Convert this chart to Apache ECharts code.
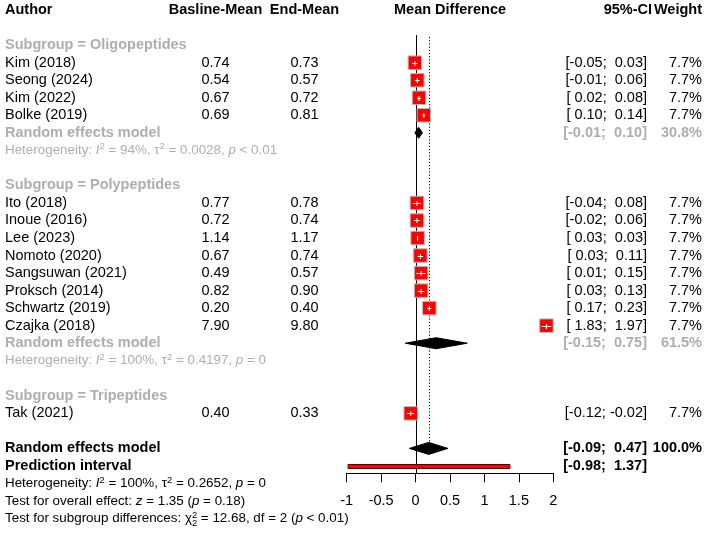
<!DOCTYPE html>
<html><head><meta charset="utf-8">
<script src="https://cdn.jsdelivr.net/npm/echarts@6/dist/echarts.min.js"></script>
<style>html,body{margin:0;padding:0;background:#fff}#c{width:708px;height:533px}</style>
</head><body><div id="c"></div>
<script>
// ---------------- data ----------------
const studies = ['Kim (2018)', 'Seong (2024)', 'Kim (2022)', 'Bolke (2019)',
  'Ito (2018)', 'Inoue (2016)', 'Lee (2023)', 'Nomoto (2020)', 'Sangsuwan (2021)',
  'Proksch (2014)', 'Schwartz (2019)', 'Czajka (2018)', 'Tak (2021)'];
const studyGroup = ['Oligopeptides', 'Oligopeptides', 'Oligopeptides', 'Oligopeptides',
  'Polypeptides', 'Polypeptides', 'Polypeptides', 'Polypeptides', 'Polypeptides',
  'Polypeptides', 'Polypeptides', 'Polypeptides', 'Tripeptides'];
const baselineMean = [0.74, 0.54, 0.67, 0.69, 0.77, 0.72, 1.14, 0.67, 0.49, 0.82, 0.20, 7.90, 0.40];
const endMean = [0.73, 0.57, 0.72, 0.81, 0.78, 0.74, 1.17, 0.74, 0.57, 0.90, 0.40, 9.80, 0.33];
const meanDiff = [-0.01, 0.025, 0.05, 0.12, 0.02, 0.02, 0.03, 0.07, 0.08, 0.08, 0.20, 1.90, -0.07];
const ciLower = [-0.05, -0.01, 0.02, 0.10, -0.04, -0.02, 0.03, 0.03, 0.01, 0.03, 0.17, 1.83, -0.12];
const ciUpper = [0.03, 0.06, 0.08, 0.14, 0.08, 0.06, 0.03, 0.11, 0.15, 0.13, 0.23, 1.97, -0.02];
const studyWeight = [7.7, 7.7, 7.7, 7.7, 7.7, 7.7, 7.7, 7.7, 7.7, 7.7, 7.7, 7.7, 7.7];

const subgroupNames = ['Oligopeptides', 'Polypeptides', 'Tripeptides'];
const subgroupEst = [0.045, 0.30, null];
const subgroupLower = [-0.01, -0.15, null];
const subgroupUpper = [0.10, 0.75, null];
const subgroupWeight = [30.8, 61.5, null];
const subgroupI2 = ['94%', '100%', null];
const subgroupTau2 = ['0.0028', '0.4197', null];
const subgroupP = ['< 0.01', '= 0', null];

const overallEst = 0.19, overallLower = -0.09, overallUpper = 0.47, overallWeight = 100.0;
const predLower = -0.98, predUpper = 1.37;
const overallI2 = '100%', overallTau2 = '0.2652', overallP = '= 0';
const overallZ = '1.35', overallZp = '= 0.18';
const subgroupChi2 = '12.68', subgroupDf = '2', subgroupChiP = '< 0.01';

const xTickValues = [-1, -0.5, 0, 0.5, 1, 1.5, 2];
const xTickLabels = ['-1', '-0.5', '0', '0.5', '1', '1.5', '2'];

// ---------------- styling ----------------
const FAM = '"Liberation Sans", Arial, Helvetica, sans-serif';
const FS = 14.5, FS_SMALL = 13.4;
const GRAY = '#aeaeae';
const COL_AUTHOR = 5, COL_BASE = 215.5, COL_END = 304.5, COL_CI = 647, COL_CI_HEAD = 652, COL_W = 702;

function f2(v) { return v.toFixed(2); }
function pad(v) { return (v < 0 ? '' : ' ') + f2(v); }
function ciText(lo, hi) { return '[' + pad(lo) + '; ' + pad(hi) + ']'; }

const richBase = (size, color) => ({
  it: { fontSize: size, fontFamily: FAM, fontStyle: 'italic', fill: color, color: color },
  sup: { fontSize: size * 0.7, fontFamily: FAM, fill: color, color: color, padding: [0, 0, 7, 0] }
});

// ---------------- layout rows ----------------
const textItems = [];
const squares = [];   // [md, lo, hi, row]
const diamonds = [];  // [est, lo, hi, row, halfHeight]
function T(row, text, opt) { textItems.push(Object.assign({ row, text, x: COL_AUTHOR, align: 'left', weight: 'normal', color: '#000', size: FS }, opt || {})); }

// header
T(0, 'Author', { weight: 'bold' });
T(0, 'Basline-Mean', { x: COL_BASE, align: 'center', weight: 'bold' });
T(0, 'End-Mean', { x: COL_END, align: 'center', weight: 'bold' });
T(0, 'Mean Difference', { xVal: 0.5, align: 'center', weight: 'bold' });
T(0, '95%-CI', { x: COL_CI_HEAD, align: 'right', weight: 'bold' });
T(0, 'Weight', { x: COL_W, align: 'right', weight: 'bold' });

let row = 2;
const firstRow = row;
subgroupNames.forEach((g, gi) => {
  T(row, 'Subgroup = ' + g, { weight: 'bold', color: GRAY });
  row++;
  studies.forEach((s, i) => {
    if (studyGroup[i] !== g) return;
    T(row, s);
    T(row, f2(baselineMean[i]), { x: COL_BASE, align: 'center' });
    T(row, f2(endMean[i]), { x: COL_END, align: 'center' });
    T(row, ciText(ciLower[i], ciUpper[i]), { x: COL_CI, align: 'right' });
    T(row, studyWeight[i].toFixed(1) + '%', { x: COL_W, align: 'right' });
    squares.push([meanDiff[i], ciLower[i], ciUpper[i], row]);
    row++;
  });
  if (subgroupEst[gi] != null) {
    T(row, 'Random effects model', { weight: 'bold', color: GRAY });
    T(row, ciText(subgroupLower[gi], subgroupUpper[gi]), { x: COL_CI, align: 'right', weight: 'bold', color: GRAY });
    T(row, subgroupWeight[gi].toFixed(1) + '%', { x: COL_W, align: 'right', weight: 'bold', color: GRAY });
    diamonds.push([subgroupEst[gi], subgroupLower[gi], subgroupUpper[gi], row, 5.5]);
    row++;
    T(row, 'Heterogeneity: {it|I}{sup|2} = ' + subgroupI2[gi] + ', τ{sup|2} = ' + subgroupTau2[gi] + ', {it|p} ' + subgroupP[gi],
      { color: GRAY, size: FS_SMALL, rich: true });
    row++;
  }
  row++;
});
const overallRow = row;
T(row, 'Random effects model', { weight: 'bold' });
T(row, ciText(overallLower, overallUpper), { x: COL_CI, align: 'right', weight: 'bold' });
T(row, overallWeight.toFixed(1) + '%', { x: COL_W, align: 'right', weight: 'bold' });
diamonds.push([overallEst, overallLower, overallUpper, row, 6]);
row++;
const predRow = row;
T(row, 'Prediction interval', { weight: 'bold' });
T(row, ciText(predLower, predUpper), { x: COL_CI, align: 'right', weight: 'bold' });
row++;
T(row, 'Heterogeneity: {it|I}{sup|2} = ' + overallI2 + ', τ{sup|2} = ' + overallTau2 + ', {it|p} ' + overallP, { size: FS_SMALL, rich: true });
row++;
T(row, 'Test for overall effect: {it|z} = ' + overallZ + ' ({it|p} ' + overallZp + ')', { size: FS_SMALL, rich: true });
row++;
const chiPrefix = 'Test for subgroup differences: ';
T(row, chiPrefix + 'χ{sup|2} = ' + subgroupChi2 + ', df = ' + subgroupDf + ' ({it|p} ' + subgroupChiP + ')', { size: FS_SMALL, rich: true });
// subscript 2 under chi
const mctx = document.createElement('canvas').getContext('2d');
mctx.font = FS_SMALL + 'px ' + FAM;
const chiSubX = COL_AUTHOR + mctx.measureText(chiPrefix + 'χ').width;
T(row, subgroupDf, { x: chiSubX, size: FS_SMALL * 0.7, dy: 5 });

const AXIS_ROW = 26.42;
const lines = [ // [x, rowTop, rowBottom, dashed, bottomOffsetPx]
  [0, firstRow - 0.58, AXIS_ROW, 0, 0],
  [overallEst, firstRow - 0.47, overallRow, 1, -6]
];

// ---------------- chart ----------------
const chart = echarts.init(document.getElementById('c'), null, { renderer: 'canvas' });
chart.setOption({
  animation: false,
  backgroundColor: '#fff',
  grid: { left: 346.7, right: 154.7, top: 10.1, bottom: 59.7, containLabel: false, outerBoundsMode: 'none' },
  xAxis: {
    type: 'value', min: -1, max: 2, interval: 0.5,
    axisLine: { show: true, onZero: false, lineStyle: { color: '#000', width: 1 } },
    axisTick: { show: true, length: 9, lineStyle: { color: '#000', width: 1 } },
    axisLabel: { color: '#000', fontSize: FS, fontFamily: FAM, margin: 20,
      formatter: v => { const k = xTickValues.findIndex(t => Math.abs(t - v) < 1e-9); return k >= 0 ? xTickLabels[k] : ''; } },
    splitLine: { show: false }
  },
  yAxis: { type: 'value', inverse: true, min: 0, max: AXIS_ROW, show: false, splitLine: { show: false } },
  series: [
    { // reference lines
      type: 'custom', silent: true, z: 1, data: lines,
      renderItem: (p, api) => {
        const x = Math.round(api.coord([api.value(0), 0])[0]) + 0.5;
        const y1 = api.coord([0, api.value(1)])[1];
        const y2 = api.coord([0, api.value(2)])[1] + api.value(4);
        return { type: 'line', shape: { x1: x, y1: y1, x2: x, y2: y2 },
          style: { stroke: '#000', lineWidth: 1, lineDash: api.value(3) ? [1.2, 2] : null } };
      }
    },
    { // prediction interval
      type: 'custom', silent: true, z: 3, data: [[predLower, predUpper, predRow]],
      renderItem: (p, api) => {
        const a = api.coord([api.value(0), api.value(2)]);
        const b = api.coord([api.value(1), api.value(2)]);
        const y0 = Math.round(a[1]) - 2 + 0.5;
        return { type: 'rect', shape: { x: a[0], y: y0, width: b[0] - a[0], height: 4 },
          style: { fill: '#ff0000', stroke: '#5a0000', lineWidth: 1 } };
      }
    },
    { // diamonds
      type: 'custom', silent: true, z: 4, data: diamonds,
      renderItem: (p, api) => {
        const r = api.value(3), h = api.value(4);
        const c = api.coord([api.value(0), r]);
        const l = api.coord([api.value(1), r]);
        const u = api.coord([api.value(2), r]);
        return { type: 'polygon', shape: { points: [[l[0], c[1]], [c[0], c[1] - h], [u[0], c[1]], [c[0], c[1] + h]] },
          style: { fill: '#000', stroke: '#000', lineWidth: 1 } };
      }
    },
    { // study squares with CI
      type: 'custom', silent: true, z: 5, data: squares,
      renderItem: (p, api) => {
        const r = api.value(3);
        const c = api.coord([api.value(0), r]);
        const l = api.coord([api.value(1), r]);
        const u = api.coord([api.value(2), r]);
        const s = 13.5, half = s / 2;
        const y = Math.round(c[1]) + 0.5;
        const children = [];
        const sl = c[0] - half, sr = c[0] + half;
        if (l[0] < sl) children.push({ type: 'line', shape: { x1: l[0], y1: y, x2: sl, y2: y }, style: { stroke: '#000', lineWidth: 1 } });
        if (u[0] > sr) children.push({ type: 'line', shape: { x1: sr, y1: y, x2: u[0], y2: y }, style: { stroke: '#000', lineWidth: 1 } });
        children.push({ type: 'rect', shape: { x: sl, y: c[1] - half, width: s, height: s },
          style: { fill: '#ff0000', stroke: '#b8b8b8', lineWidth: 1 } });
        children.push({ type: 'line', shape: { x1: Math.max(l[0], sl + 1), y1: y, x2: Math.min(u[0], sr - 1), y2: y }, style: { stroke: '#fff', lineWidth: 1 } });
        children.push({ type: 'line', shape: { x1: c[0], y1: y - 2.5, x2: c[0], y2: y + 2.5 }, style: { stroke: '#fff', lineWidth: 1 } });
        return { type: 'group', children: children };
      }
    },
    { // texts
      type: 'custom', silent: true, z: 10, data: textItems.map(t => [t.xVal != null ? t.xVal : 0, t.row]),
      renderItem: (p, api) => {
        const t = textItems[p.dataIndex];
        const pos = api.coord([t.xVal != null ? t.xVal : 0, t.row]);
        const x = t.xVal != null ? pos[0] : t.x;
        const style = {
          text: t.text, x: x, y: pos[1] + (t.dy || 0), fill: t.color,
          fontSize: t.size, fontFamily: FAM, fontWeight: t.weight,
          align: t.align, verticalAlign: 'middle'
        };
        if (t.rich) style.rich = richBase(t.size, t.color);
        return { type: 'text', style: style };
      }
    }
  ]
});
</script></body></html>
